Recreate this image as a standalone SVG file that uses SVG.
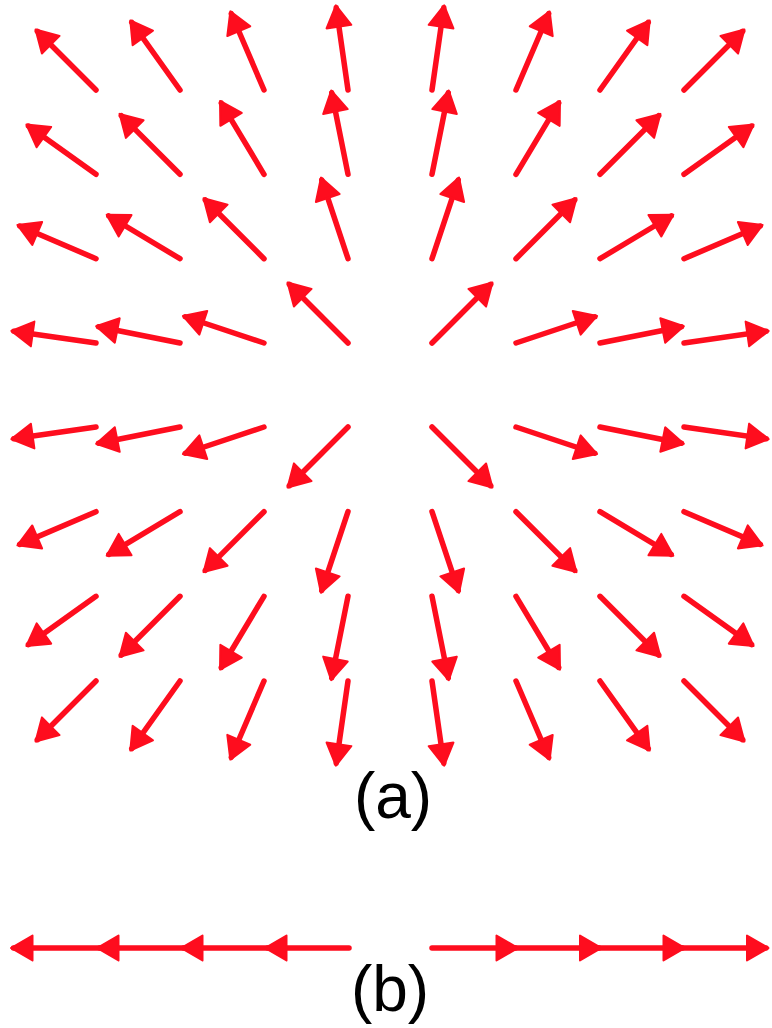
<svg xmlns="http://www.w3.org/2000/svg" width="772" height="1028" viewBox="0 0 772 1028">
<style>
.a{stroke:#fe0d1e;stroke-width:5.5;stroke-linecap:round;fill:none;marker-end:url(#ah)}
.lbl{font-family:"Liberation Sans",Arial,Helvetica,sans-serif;font-size:64px;fill:#000;text-anchor:middle}
</style>
<defs>
<marker id="ah" markerUnits="userSpaceOnUse" orient="auto" overflow="visible" refX="0" refY="0" markerWidth="1" markerHeight="1">
<path d="M2.5,0 L-19,-12.5 L-19,12.5 Z" fill="#fe0d1e" stroke="#fe0d1e" stroke-width="2" stroke-linejoin="round"/>
</marker>
</defs>
<rect width="772" height="1028" fill="#fff"/>
<g id="connectors">
<g id="field-a">
<line class="a" x1="96" y1="90" x2="37.31" y2="31.31"/>
<line class="a" x1="180" y1="90" x2="131.76" y2="22.46"/>
<line class="a" x1="264" y1="90" x2="231.31" y2="13.71"/>
<line class="a" x1="348" y1="90" x2="336.26" y2="7.83"/>
<line class="a" x1="432" y1="90" x2="443.74" y2="7.83"/>
<line class="a" x1="516" y1="90" x2="548.69" y2="13.71"/>
<line class="a" x1="600" y1="90" x2="648.24" y2="22.46"/>
<line class="a" x1="684" y1="90" x2="742.69" y2="31.31"/>

<line class="a" x1="96" y1="174.3" x2="28.46" y2="126.06"/>
<line class="a" x1="180" y1="174.3" x2="121.31" y2="115.61"/>
<line class="a" x1="264" y1="174.3" x2="221.30" y2="103.13"/>
<line class="a" x1="348" y1="174.3" x2="331.72" y2="92.91"/>
<line class="a" x1="432" y1="174.3" x2="448.28" y2="92.91"/>
<line class="a" x1="516" y1="174.3" x2="558.70" y2="103.13"/>
<line class="a" x1="600" y1="174.3" x2="658.69" y2="115.61"/>
<line class="a" x1="684" y1="174.3" x2="751.54" y2="126.06"/>

<line class="a" x1="96" y1="258.7" x2="19.71" y2="226.01"/>
<line class="a" x1="180" y1="258.7" x2="108.83" y2="216.0"/>
<line class="a" x1="264" y1="258.7" x2="205.31" y2="200.01"/>
<line class="a" x1="348" y1="258.7" x2="321.75" y2="179.96"/>
<line class="a" x1="432" y1="258.7" x2="458.25" y2="179.96"/>
<line class="a" x1="516" y1="258.7" x2="574.69" y2="200.01"/>
<line class="a" x1="600" y1="258.7" x2="671.17" y2="216.0"/>
<line class="a" x1="684" y1="258.7" x2="760.29" y2="226.01"/>

<line class="a" x1="96" y1="343" x2="13.83" y2="331.26"/>
<line class="a" x1="180" y1="343" x2="98.61" y2="326.72"/>
<line class="a" x1="264" y1="343" x2="185.26" y2="316.75"/>
<line class="a" x1="348" y1="343" x2="289.31" y2="284.31"/>
<line class="a" x1="432" y1="343" x2="490.69" y2="284.31"/>
<line class="a" x1="516" y1="343" x2="594.74" y2="316.75"/>
<line class="a" x1="600" y1="343" x2="681.39" y2="326.72"/>
<line class="a" x1="684" y1="343" x2="766.17" y2="331.26"/>

<line class="a" x1="96" y1="427" x2="13.83" y2="438.74"/>
<line class="a" x1="180" y1="427" x2="98.61" y2="443.28"/>
<line class="a" x1="264" y1="427" x2="185.26" y2="453.25"/>
<line class="a" x1="348" y1="427" x2="289.31" y2="485.69"/>
<line class="a" x1="432" y1="427" x2="490.69" y2="485.69"/>
<line class="a" x1="516" y1="427" x2="594.74" y2="453.25"/>
<line class="a" x1="600" y1="427" x2="681.39" y2="443.28"/>
<line class="a" x1="684" y1="427" x2="766.17" y2="438.74"/>

<line class="a" x1="96" y1="511.7" x2="19.71" y2="544.39"/>
<line class="a" x1="180" y1="511.7" x2="108.83" y2="554.4"/>
<line class="a" x1="264" y1="511.7" x2="205.31" y2="570.39"/>
<line class="a" x1="348" y1="511.7" x2="321.75" y2="590.44"/>
<line class="a" x1="432" y1="511.7" x2="458.25" y2="590.44"/>
<line class="a" x1="516" y1="511.7" x2="574.69" y2="570.39"/>
<line class="a" x1="600" y1="511.7" x2="671.17" y2="554.4"/>
<line class="a" x1="684" y1="511.7" x2="760.29" y2="544.39"/>

<line class="a" x1="96" y1="596.3" x2="28.46" y2="644.54"/>
<line class="a" x1="180" y1="596.3" x2="121.31" y2="654.99"/>
<line class="a" x1="264" y1="596.3" x2="221.30" y2="667.47"/>
<line class="a" x1="348" y1="596.3" x2="331.72" y2="677.69"/>
<line class="a" x1="432" y1="596.3" x2="448.28" y2="677.69"/>
<line class="a" x1="516" y1="596.3" x2="558.70" y2="667.47"/>
<line class="a" x1="600" y1="596.3" x2="658.69" y2="654.99"/>
<line class="a" x1="684" y1="596.3" x2="751.54" y2="644.54"/>

<line class="a" x1="96" y1="681" x2="37.31" y2="739.69"/>
<line class="a" x1="180" y1="681" x2="131.76" y2="748.54"/>
<line class="a" x1="264" y1="681" x2="231.31" y2="757.29"/>
<line class="a" x1="348" y1="681" x2="336.26" y2="763.17"/>
<line class="a" x1="432" y1="681" x2="443.74" y2="763.17"/>
<line class="a" x1="516" y1="681" x2="548.69" y2="757.29"/>
<line class="a" x1="600" y1="681" x2="648.24" y2="748.54"/>
<line class="a" x1="684" y1="681" x2="742.69" y2="739.69"/>
</g>
<g id="field-b">
<line class="a" x1="349" y1="948" x2="267.5" y2="948"/>
<line class="a" x1="267" y1="948" x2="183.5" y2="948"/>
<line class="a" x1="183" y1="948" x2="99.5" y2="948"/>
<line class="a" x1="99" y1="948" x2="13.5" y2="948"/>
<line class="a" x1="432" y1="948" x2="515.5" y2="948"/>
<line class="a" x1="515" y1="948" x2="599" y2="948"/>
<line class="a" x1="598.5" y1="948" x2="682.5" y2="948"/>
<line class="a" x1="682" y1="948" x2="766" y2="948"/>
</g>
</g>
<g id="label-a"><text class="lbl" x="393" y="818">(a)</text></g>
<g id="label-b"><text class="lbl" x="390" y="1011">(b)</text></g>
</svg>
